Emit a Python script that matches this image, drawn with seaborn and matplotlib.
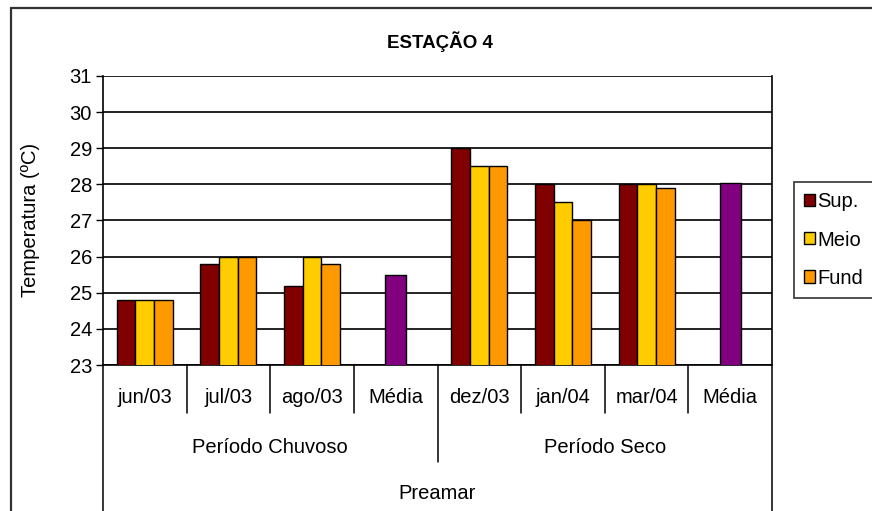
import matplotlib
matplotlib.use("Agg")
import matplotlib.pyplot as plt
from matplotlib.lines import Line2D
from matplotlib.patches import Patch
import matplotlib.transforms as mtransforms
import seaborn as sns
import pandas as pd

# Sampling campaigns (keys are unique; displayed labels are separate)
categories = ["jun/03", "jul/03", "ago/03", "media_chuvoso",
              "dez/03", "jan/04", "mar/04", "media_seco"]
category_labels = ["jun/03", "jul/03", "ago/03", "Média",
                   "dez/03", "jan/04", "mar/04", "Média"]
months = ["jun/03", "jul/03", "ago/03", "dez/03", "jan/04", "mar/04"]

# Water temperature (ºC) by depth
series = ["Sup.", "Meio", "Fund"]
sup = [24.8, 25.8, 25.2, 29.0, 28.0, 28.0]
meio = [24.8, 26.0, 26.0, 28.5, 27.5, 28.0]
fund = [24.8, 26.0, 25.8, 28.5, 27.0, 27.9]

# Period means
mean_categories = ["media_chuvoso", "media_seco"]
mean_values = [25.5, 28.05]

periods = ["Período Chuvoso", "Período Seco"]
tide = "Preamar"

colors = {"Sup.": "#800000", "Meio": "#FFCC00", "Fund": "#FF9900"}
mean_color = "#800080"

rows = []
for name, vals in zip(series, [sup, meio, fund]):
    for m, v in zip(months, vals):
        rows.append({"cat": m, "serie": name, "temp": v})
df = pd.DataFrame(rows)
df_mean = pd.DataFrame({"cat": mean_categories, "temp": mean_values})

sns.set_style("white")
plt.rcParams["font.family"] = ["Liberation Sans", "DejaVu Sans"]
plt.rcParams["text.color"] = "black"
plt.rcParams["ytick.labelcolor"] = "black"

FS = 14.5

fig = plt.figure(figsize=(8.72, 5.11), dpi=100)
ax = fig.add_axes([103 / 872, 1 - 365 / 511, (772 - 103) / 872, (365 - 76) / 511])

sns.barplot(data=df, x="cat", y="temp", hue="serie", order=categories,
            hue_order=series, palette=colors, saturation=1, width=0.67,
            gap=0, edgecolor="black", linewidth=1.0, ax=ax, zorder=3)
sns.barplot(data=df_mean, x="cat", y="temp", order=categories,
            color=mean_color, saturation=1, width=0.25, edgecolor="black",
            linewidth=1.0, ax=ax, zorder=3)

ax.set_ylim(23, 31)
ax.set_xlim(-0.5, len(categories) - 0.5)
ax.set_yticks(range(23, 32))
ax.yaxis.grid(True, color="#222222", linewidth=1.4, zorder=0)
ax.set_axisbelow(True)
ax.tick_params(axis="y", which="both", left=True, length=5, width=1.0,
               color="black", labelsize=FS, pad=3, labelcolor="black")
ax.tick_params(axis="x", bottom=False, labelbottom=False)
for side in ["left", "right", "bottom"]:
    ax.spines[side].set_visible(True)
    ax.spines[side].set_color("black")
    ax.spines[side].set_linewidth(1.2)
ax.spines["top"].set_visible(False)
ax.set_xlabel("")
ax.set_ylabel("")

# Hierarchical category axis
trans = mtransforms.blended_transform_factory(ax.transData, ax.transAxes)
n = len(categories)
for i, lab in enumerate(category_labels):
    ax.text(i, -0.111, lab, transform=trans, ha="center", va="center",
            fontsize=FS)
for b in [0.5, 1.5, 2.5, 4.5, 5.5, 6.5]:
    ax.plot([b, b], [0, -0.166], transform=trans, color="black",
            linewidth=1.1, clip_on=False)
ax.plot([3.5, 3.5], [0, -0.336], transform=trans, color="black",
        linewidth=1.1, clip_on=False)
for b in [-0.5, n - 0.5]:
    ax.plot([b, b], [0, -0.52], transform=trans, color="black",
            linewidth=1.1, clip_on=False)
ax.text(1.5, -0.284, periods[0], transform=trans, ha="center",
        va="center", fontsize=FS)
ax.text(5.5, -0.284, periods[1], transform=trans, ha="center",
        va="center", fontsize=FS)
ax.text(3.5, -0.443, tide, transform=trans, ha="center", va="center",
        fontsize=FS)

# Legend
if ax.get_legend() is not None:
    ax.get_legend().remove()
handles = [Patch(facecolor=colors[s], edgecolor="black", linewidth=1.0)
           for s in series]
leg = fig.legend(handles, series, loc="center left",
                 bbox_to_anchor=(794 / 872, 1 - 240 / 511),
                 frameon=True, fancybox=False, edgecolor="black",
                 fontsize=FS, handlelength=0.55, handleheight=0.55,
                 handletextpad=0.1, labelspacing=0.95, borderpad=0.5,
                 borderaxespad=0)
leg.get_frame().set_linewidth(1.2)

fig.text(440 / 872, 1 - 42 / 511, "ESTAÇÃO 4", ha="center", va="center",
         fontsize=13.5, fontweight="bold")
fig.text(30 / 872, 1 - 220 / 511, "Temperatura (ºC)", rotation=90,
         ha="center", va="center", fontsize=FS)

# Chart-area frame
fig.add_artist(Line2D([11 / 872, 11 / 872], [-0.05, 1 - 8 / 511],
                      transform=fig.transFigure, color="#333333",
                      linewidth=1.6))
fig.add_artist(Line2D([11 / 872, 1.05], [1 - 8 / 511, 1 - 8 / 511],
                      transform=fig.transFigure, color="#333333",
                      linewidth=1.6))

fig.savefig("out.png", dpi=100, facecolor="white")
